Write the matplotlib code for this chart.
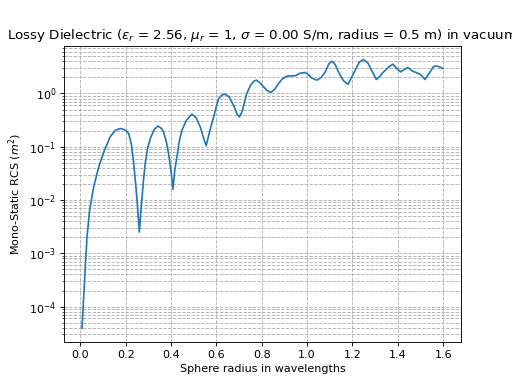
import matplotlib
matplotlib.use("Agg")
import matplotlib.pyplot as plt

# sphere radius in wavelengths
radius_wl = [0.0075, 0.0147, 0.022, 0.0294, 0.041, 0.059, 0.081, 0.103, 0.132, 0.155,
             0.176, 0.195, 0.213, 0.225, 0.235, 0.245, 0.252, 0.260, 0.266, 0.272,
             0.279, 0.286, 0.297, 0.309, 0.325, 0.342, 0.356, 0.367, 0.380, 0.389,
             0.400, 0.408, 0.416, 0.426, 0.436, 0.448, 0.468, 0.492, 0.510, 0.529,
             0.545, 0.555, 0.565, 0.577, 0.588, 0.600, 0.610, 0.625, 0.639, 0.655,
             0.676, 0.690, 0.702, 0.714, 0.725, 0.734, 0.750, 0.765, 0.776, 0.790,
             0.808, 0.825, 0.840, 0.857, 0.874, 0.892, 0.911, 0.930, 0.948, 0.970,
             0.990, 1.005, 1.020, 1.043, 1.062, 1.080, 1.095, 1.109, 1.124, 1.138,
             1.160, 1.180, 1.196, 1.212, 1.230, 1.249, 1.268, 1.286, 1.305, 1.320,
             1.337, 1.358, 1.378, 1.395, 1.413, 1.428, 1.444, 1.465, 1.484, 1.498,
             1.510, 1.520, 1.532, 1.542, 1.555, 1.565, 1.580, 1.598]

# mono-static RCS in m^2
rcs = [3.9e-5, 1.51e-4, 5.6e-4, 2.04e-3, 6.5e-3, 1.78e-2, 4.17e-2, 7.9e-2, 0.155, 0.204,
       0.220, 0.209, 0.178, 0.112, 0.050, 0.0178, 0.0079, 0.0025, 0.0056, 0.0112,
       0.025, 0.049, 0.095, 0.145, 0.209, 0.245, 0.224, 0.19, 0.12, 0.074,
       0.035, 0.0158, 0.035, 0.065, 0.126, 0.204, 0.316, 0.41, 0.355, 0.234,
       0.138, 0.105, 0.158, 0.25, 0.363, 0.575, 0.805, 0.94, 0.97, 0.87,
       0.60, 0.417, 0.363, 0.468, 0.724, 1.0, 1.41, 1.70, 1.78, 1.62,
       1.33, 1.12, 1.045, 1.20, 1.54, 1.91, 2.11, 2.14, 2.16, 2.40,
       2.48, 2.29, 1.95, 1.78, 2.0, 2.54, 3.55, 4.04, 3.47, 2.54,
       1.74, 1.48, 2.0, 2.74, 3.89, 4.34, 3.72, 2.63, 1.83, 2.09,
       2.54, 3.09, 3.55, 2.95, 2.54, 2.82, 3.07, 2.63, 2.44, 2.30,
       2.04, 1.83, 2.19, 2.54, 3.09, 3.30, 3.20, 2.94]

fig, ax = plt.subplots(figsize=(6.4, 4.8), dpi=80)
ax.semilogy(radius_wl, rcs)
ax.set_title(r'Lossy Dielectric ($\epsilon_r$ = 2.56, $\mu_r$ = 1, $\sigma$ = 0.00 S/m, radius = 0.5 m) in vacuum')
ax.set_xlabel('Sphere radius in wavelengths')
ax.set_ylabel(r'Mono-Static RCS ($m^2$)')
ax.grid(True, which='both', linestyle='--')

fig.savefig('out.png', dpi=80)
